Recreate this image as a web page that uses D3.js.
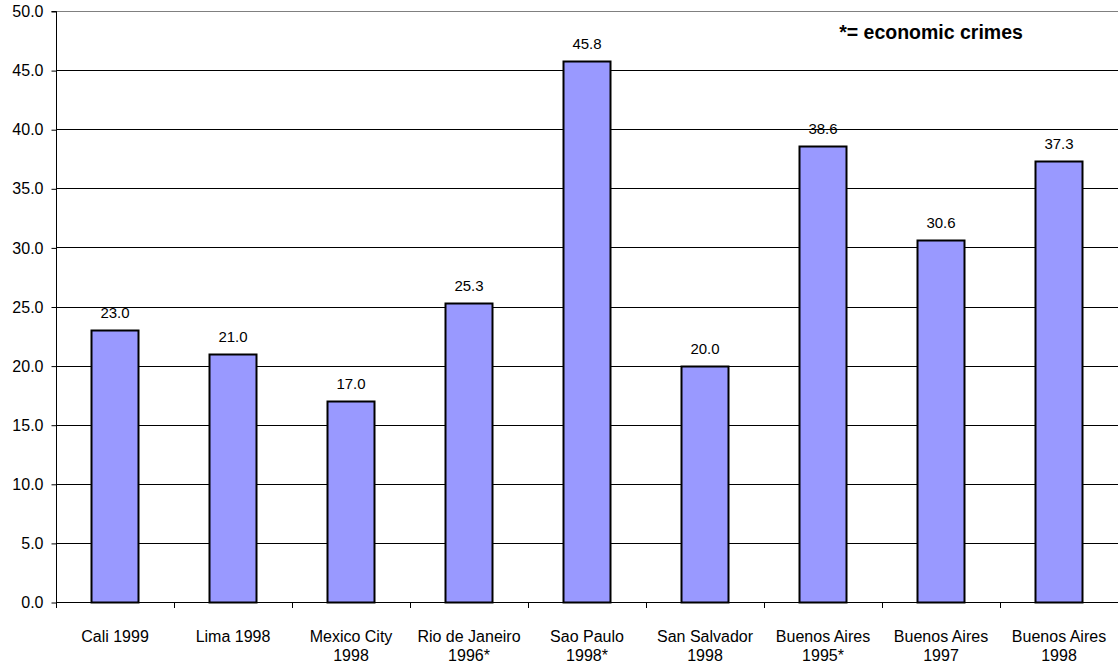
<!DOCTYPE html>
<html>
<head>
<meta charset="utf-8">
<script src="https://cdn.jsdelivr.net/npm/d3@7"></script>
<style>
  html, body { margin: 0; padding: 0; background: #fff; }
  svg { display: block; font-family: "Liberation Sans", Arial, sans-serif; }
</style>
</head>
<body>
<svg id="chart" width="1118" height="664"></svg>
<script>
// Cities and survey years (second line of each label)
const categories = [
  ["Cali 1999"],
  ["Lima 1998"],
  ["Mexico City", "1998"],
  ["Rio de Janeiro", "1996*"],
  ["Sao Paulo", "1998*"],
  ["San Salvador", "1998"],
  ["Buenos Aires", "1995*"],
  ["Buenos Aires", "1997"],
  ["Buenos Aires", "1998"]
];
const values = [23.0, 21.0, 17.0, 25.3, 45.8, 20.0, 38.6, 30.6, 37.3];
const yTicks = [0, 5, 10, 15, 20, 25, 30, 35, 40, 45, 50];
const note = "*= economic crimes";

const svg = d3.select("#chart");
const margin = { left: 56, right: 0, top: 11, bottom: 62 };
const W = 1118, H = 664;
const x0 = margin.left, x1 = W - margin.right;
const y0 = H - margin.bottom, y1 = margin.top;
const FS = 16;

const x = d3.scaleBand().domain(d3.range(categories.length)).range([x0, x1]).paddingInner(0.6).paddingOuter(0.3);
const band = d3.scaleBand().domain(d3.range(categories.length)).range([x0, x1]);
const y = d3.scaleLinear().domain([0, 50]).range([y0, y1]);

// horizontal gridlines
svg.append("g").selectAll("line").data(yTicks.filter(d => d > 0)).join("line")
  .attr("x1", x0).attr("x2", x1)
  .attr("y1", d => Math.round(y(d)) + 0.5).attr("y2", d => Math.round(y(d)) + 0.5)
  .attr("stroke", d => d === 50 ? "#808080" : "#000").attr("stroke-width", 1);

// bars
svg.append("g").selectAll("rect").data(values).join("rect")
  .attr("x", (d, i) => Math.round(x(i)) + 0.5)
  .attr("width", Math.round(x.bandwidth()))
  .attr("y", d => Math.round(y(d)) + 0.5)
  .attr("height", d => Math.round(y0) - Math.round(y(d)))
  .attr("fill", "#9999FF").attr("stroke", "#000").attr("stroke-width", 2);

// value labels
svg.append("g").selectAll("text").data(values).join("text")
  .attr("x", (d, i) => x(i) + x.bandwidth() / 2)
  .attr("y", d => y(d) - 12)
  .attr("text-anchor", "middle").attr("font-size", 15).attr("fill", "#000")
  .text(d => d.toFixed(1));

// y axis
const yAxis = d3.axisLeft(y).tickValues(yTicks).tickFormat(d => d.toFixed(1)).tickSize(5).tickPadding(8);
const gy = svg.append("g").attr("transform", `translate(${x0 + 0.5},0.5)`).call(yAxis);
gy.select(".domain").attr("stroke", "#000").attr("d", `M-5,${Math.round(y1)}H0V${Math.round(y0)}`);
gy.selectAll(".tick line").attr("stroke", "#000");
gy.selectAll(".tick text").attr("font-size", FS).attr("fill", "#000")
  .attr("font-family", "Liberation Sans, Arial, sans-serif");

// x axis baseline and category separators
const gx = svg.append("g");
gx.append("line").attr("x1", x0).attr("x2", x1)
  .attr("y1", Math.round(y0) + 0.5).attr("y2", Math.round(y0) + 0.5).attr("stroke", "#000");
gx.selectAll("line.sep").data(d3.range(categories.length + 1)).join("line").attr("class", "sep")
  .attr("x1", i => Math.round(x0 + i * band.bandwidth()) + 0.5)
  .attr("x2", i => Math.round(x0 + i * band.bandwidth()) + 0.5)
  .attr("y1", Math.round(y0)).attr("y2", Math.round(y0) + 6).attr("stroke", "#000");

// category labels
const labels = svg.append("g").selectAll("text").data(categories).join("text")
  .attr("x", (d, i) => band(i) + band.bandwidth() / 2)
  .attr("y", y0 + 40)
  .attr("text-anchor", "middle").attr("font-size", FS).attr("fill", "#000");
labels.selectAll("tspan").data(d => d).join("tspan")
  .attr("x", function () { return d3.select(this.parentNode).attr("x"); })
  .attr("dy", (d, j) => j === 0 ? 0 : 19)
  .text(d => d);

// note
svg.append("text").attr("x", 931).attr("y", 39).attr("text-anchor", "middle")
  .attr("font-size", 19.5).attr("font-weight", "bold").attr("fill", "#000").text(note);
</script>
</body>
</html>
